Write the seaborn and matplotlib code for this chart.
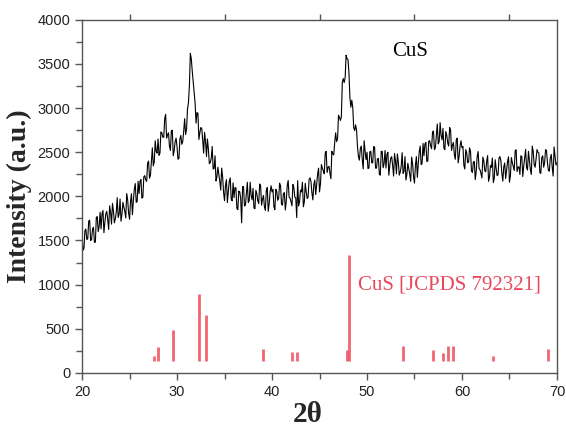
import numpy as np
import pandas as pd
import matplotlib
matplotlib.use("Agg")
import matplotlib.pyplot as plt
from matplotlib.ticker import MultipleLocator
import seaborn as sns

# XRD pattern: values at 20.0, 20.2, ... 70.0
theta_even = np.round(np.arange(20.0, 70.01, 0.2), 1)
intensity_even = [
    1560, 1410, 1630, 1520, 1730, 1510, 1650, 1480, 1770, 1660,
    1630, 1840, 1705, 1830, 1625, 1820, 1920, 1700, 1820, 1760,
    1970, 1795, 1880, 1755, 1960, 1740, 2030, 1945, 2145, 1940,
    2030, 2190, 1990, 2235, 2170, 2400, 2240, 2550, 2390, 2510,
    2650, 2490, 2720, 2670, 2930, 2700, 2570, 2740, 2460, 2620,
    2560, 2430, 2690, 2620, 2880, 2760, 3060, 3620, 3420, 3180,
    2830, 2940, 2720, 2770, 2490, 2620, 2650, 2370, 2430, 2310,
    2460, 2220, 2250, 2070, 2220, 1950, 2190, 2060, 2210, 1950,
    1985, 2095, 1850, 2050, 1700, 2110, 1900, 2160, 1950, 2010,
    2090, 1860, 2030, 1920, 2120, 1970, 1880, 2070, 1830, 2050,
    2050, 1880, 2080, 1955, 2150, 1910, 2030, 1845, 2120, 1990,
    1940, 2135, 1990, 1760, 1890, 2070, 2160, 1935, 2050, 1990,
    2210, 2040, 2130, 2020, 2250, 2050, 2360, 2290, 2490, 2270,
    2340, 2200, 2480, 2610, 2620, 2920, 2860, 3290, 3290, 3600,
    3550, 3120, 3090, 2780, 2810, 2560, 2410, 2570, 2310, 2510,
    2500, 2320, 2510, 2380, 2560, 2320, 2430, 2240, 2510, 2370,
    2320, 2500, 2350, 2450, 2230, 2400, 2480, 2240, 2340, 2260,
    2450, 2250, 2310, 2170, 2370, 2150, 2450, 2370, 2570, 2370,
    2460, 2610, 2400, 2630, 2540, 2740, 2550, 2820, 2620, 2690,
    2770, 2530, 2690, 2570, 2750, 2580, 2470, 2640, 2380, 2570,
    2550, 2350, 2530, 2380, 2550, 2290, 2390, 2190, 2450, 2315,
    2260, 2445, 2290, 2395, 2170, 2350, 2435, 2205, 2315, 2245,
    2450, 2260, 2335, 2200, 2395, 2160, 2440, 2340, 2515, 2280,
    2335, 2460, 2225, 2430, 2325, 2510, 2305, 2570, 2360, 2420,
    2500, 2270, 2440, 2330, 2530, 2380, 2285, 2475, 2230, 2450,
    2380,
]

# ... and at 20.1, 20.3, ... 69.9
theta_odd = np.round(np.arange(20.1, 69.91, 0.2), 1)
intensity_odd = [
    1390, 1610, 1510, 1720, 1500, 1630, 1480, 1760, 1600, 1820,
    1800, 1588, 1802, 1738, 1892, 1685, 1835, 1745, 1985, 1795,
    1718, 1932, 1828, 2032, 1810, 1940, 1792, 2080, 1932, 2170,
    2170, 1980, 2222, 2188, 2375, 2205, 2395, 2345, 2630, 2490,
    2465, 2730, 2670, 2880, 2660, 2720, 2520, 2750, 2520, 2660,
    2420, 2650, 2590, 2740, 2700, 2990, 3250, 3560, 3300, 3060,
    2950, 2645, 2780, 2640, 2725, 2450, 2535, 2385, 2565, 2315,
    2175, 2330, 2170, 2320, 2045, 2125, 1930, 2170, 1970, 2152,
    2100, 1862, 2060, 1978, 2112, 1890, 2030, 1930, 2160, 1960,
    1870, 2070, 1950, 2140, 1900, 2010, 1840, 2100, 1920, 2120,
    2080, 1850, 2052, 1978, 2120, 1900, 2042, 1948, 2180, 1980,
    1892, 2098, 1982, 2178, 1940, 2050, 1882, 2148, 1975, 2190,
    2170, 1960, 2185, 2140, 2320, 2140, 2320, 2255, 2510, 2330,
    2265, 2510, 2470, 2720, 2650, 2895, 2900, 3335, 3345, 3560,
    3400, 3010, 3010, 2745, 2750, 2450, 2545, 2420, 2630, 2415,
    2315, 2505, 2380, 2565, 2320, 2425, 2250, 2510, 2325, 2520,
    2475, 2240, 2435, 2350, 2485, 2255, 2385, 2275, 2495, 2285,
    2185, 2375, 2250, 2445, 2220, 2355, 2215, 2505, 2360, 2600,
    2595, 2395, 2625, 2570, 2730, 2530, 2685, 2595, 2835, 2640,
    2545, 2735, 2605, 2780, 2520, 2610, 2420, 2660, 2455, 2630,
    2565, 2310, 2490, 2390, 2510, 2270, 2395, 2285, 2508, 2302,
    2208, 2402, 2278, 2462, 2220, 2328, 2155, 2415, 2235, 2438,
    2400, 2172, 2378, 2302, 2448, 2235, 2385, 2292, 2528, 2332,
    2248, 2452, 2338, 2532, 2298, 2412, 2248, 2510, 2330, 2530,
    2490, 2260, 2460, 2380, 2520, 2298, 2435, 2332, 2560, 2355,
]

# reference pattern CuS [JCPDS 792321]
ref_pos = [27.6, 28.0, 29.6, 32.3, 33.1, 39.1, 42.1, 42.6, 47.9, 48.1,
           53.75, 56.9, 58.0, 58.5, 59.1, 63.3, 69.05]
ref_int = [190, 290, 490, 895, 660, 270, 240, 240, 260, 1330,
           300, 260, 230, 300, 300, 195, 270]
ref_base = 130

df = pd.DataFrame({
    "two_theta": np.concatenate([theta_even, theta_odd]),
    "intensity": intensity_even + intensity_odd,
}).sort_values("two_theta")

sns.set_theme(style="ticks")
plt.rcParams["font.family"] = ["Liberation Sans", "DejaVu Sans"]

fig = plt.figure(figsize=(5.66, 4.32), dpi=100)
ax = fig.add_axes([0.145, 0.137, 0.839, 0.817])

sns.lineplot(data=df, x="two_theta", y="intensity", ax=ax,
             color="black", linewidth=0.8, estimator=None)

ax.vlines(ref_pos, ref_base, ref_int, colors="#ef5565", linewidth=2.0,
          alpha=0.9)

serif = ["Liberation Serif", "DejaVu Serif"]
ax.text(49.1, 1000, "CuS [JCPDS 792321]", color="#e8485a",
        fontsize=15, family=serif, va="center", ha="left")
ax.text(54.5, 3640, "CuS", color="black", fontsize=15,
        family=serif, va="center", ha="center")

ax.set_xlim(20, 70)
ax.set_ylim(0, 4000)
ax.xaxis.set_major_locator(MultipleLocator(10))
ax.xaxis.set_minor_locator(MultipleLocator(5))
ax.yaxis.set_major_locator(MultipleLocator(500))
ax.yaxis.set_minor_locator(MultipleLocator(250))

ax.tick_params(which="both", direction="out", colors="#555555",
               labelcolor="#222222", labelsize=10.5, width=1)
ax.tick_params(which="major", length=5)
ax.tick_params(which="minor", length=4)

# top axis only carries the half-decade ticks
top = ax.secondary_xaxis("top")
top.set_xticks([25, 35, 45, 55, 65])
top.set_xticklabels([])
top.tick_params(direction="out", length=4, colors="#555555", width=1)
top.spines["top"].set_visible(False)

for s in ax.spines.values():
    s.set_color("#555555")
    s.set_linewidth(1)

ax.set_xlabel("2θ", family=serif, fontsize=21, fontweight="bold")
ax.xaxis.set_label_coords(0.476, -0.08)
ax.set_ylabel("Intensity (a.u.)", family=serif, fontsize=20,
              fontweight="bold", labelpad=4)

fig.savefig("out.png", dpi=100)
